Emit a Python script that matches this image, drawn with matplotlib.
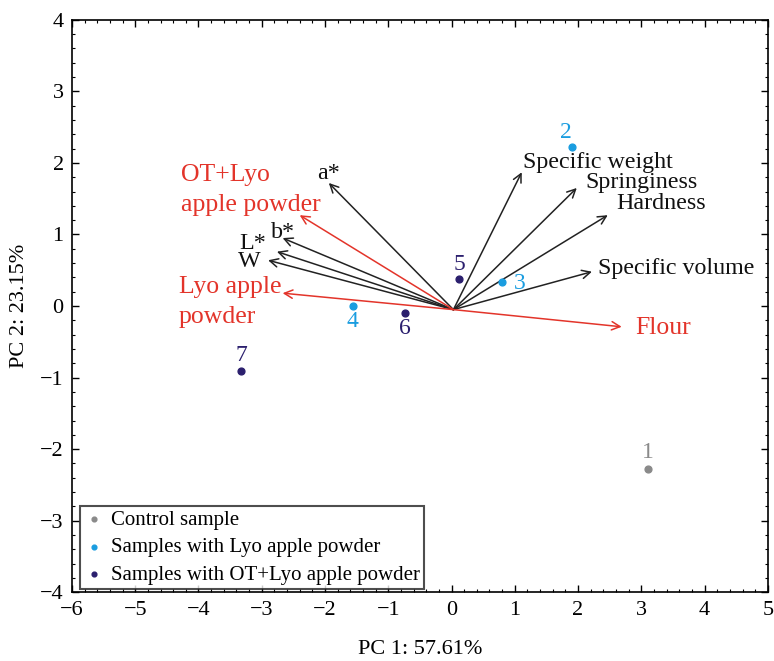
import matplotlib.pyplot as plt
from matplotlib.ticker import AutoMinorLocator

plt.rcParams['font.family'] = ['Liberation Serif', 'DejaVu Serif']

# sample scores
sample_ids = ['1', '2', '3', '4', '5', '6', '7']
sample_x = [3.10, 1.90, 0.80, -1.55, 0.12, -0.74, -3.33]
sample_y = [-2.28, 2.22, 0.34, 0.00, 0.38, -0.10, -0.91]
sample_group = [0, 1, 1, 1, 2, 2, 2]
group_names = ['Control sample', 'Samples with Lyo apple powder',
               'Samples with OT+Lyo apple powder']
group_colors = ['#8a8a8a', '#1a9de0', '#2b1f6e']

# loading vectors
origin = (0.03, -0.05)
var_names = ['a*', 'b*', 'L*', 'W', 'Specific weight', 'Springiness',
             'Hardness', 'Specific volume']
var_x = [-1.94, -2.67, -2.76, -2.90, 1.11, 1.98, 2.47, 2.22]
var_y = [1.72, 0.95, 0.76, 0.64, 1.87, 1.65, 1.27, 0.48]
supp_names = ['OT+Lyo\napple powder', 'Lyo apple\npowder', 'Flour']
supp_x = [-2.40, -2.67, 2.69]
supp_y = [1.27, 0.18, -0.29]

fig = plt.figure(figsize=(7.74, 6.61), dpi=100)
ax = fig.add_axes([0.093, 0.104, 0.899, 0.866])

for x, y in zip(var_x, var_y):
    ax.annotate('', xy=(x, y), xytext=origin,
                arrowprops=dict(arrowstyle='->', color='#222222', lw=1.1,
                                mutation_scale=15, shrinkA=0, shrinkB=0))
for x, y in zip(supp_x, supp_y):
    ax.annotate('', xy=(x, y), xytext=origin,
                arrowprops=dict(arrowstyle='->', color='#e3342a', lw=1.1,
                                mutation_scale=15, shrinkA=0, shrinkB=0))

# variable labels (position, horizontal alignment)
var_pos = [(-1.95, 1.85, 'center'), (-2.67, 1.03, 'center'),
           (-3.14, 0.88, 'center'), (-3.19, 0.62, 'center'),
           (1.13, 2.0, 'left'), (2.11, 1.72, 'left'),
           (2.61, 1.43, 'left'), (2.31, 0.52, 'left')]
for name, (px, py, ha) in zip(var_names, var_pos):
    ax.text(px, py, name, fontsize=17.3, ha=ha, va='center', color='#111111')

supp_pos = [(-4.28, 1.62), (-4.31, 0.06), (2.90, -0.31)]
for name, (px, py) in zip(supp_names, supp_pos):
    ax.text(px, py, name, fontsize=18.5, color='#e3342a', ha='left',
            va='center', linespacing=1.45)

# sample points
for g in range(3):
    xs = [x for x, k in zip(sample_x, sample_group) if k == g]
    ys = [y for y, k in zip(sample_y, sample_group) if k == g]
    ax.scatter(xs, ys, s=24, color=group_colors[g], label=group_names[g], zorder=3)

lab_off = [(0, 0.24), (-0.09, 0.20), (0.28, -0.02), (-0.01, -0.22),
           (0.0, 0.2), (0.0, -0.21), (0.0, 0.22)]
for sid, x, y, g, (dx, dy) in zip(sample_ids, sample_x, sample_y, sample_group, lab_off):
    ax.text(x + dx, y + dy, sid, fontsize=17, color=group_colors[g],
            ha='center', va='center')

ax.set_xlim(-6, 5)
ax.set_ylim(-4, 4)
ax.set_xticks(range(-6, 6))
ax.set_yticks(range(-4, 5))
ax.set_xticklabels([str(v).replace('-', '\u2212') for v in range(-6, 6)])
ax.set_yticklabels([str(v).replace('-', '\u2212') for v in range(-4, 5)])
ax.xaxis.set_minor_locator(AutoMinorLocator(5))
ax.yaxis.set_minor_locator(AutoMinorLocator(5))
ax.tick_params(which='both', direction='in', top=True, right=True, labelsize=16)
ax.tick_params(which='major', length=5, width=1, pad=6)
ax.tick_params(which='minor', length=2.5, width=0.8)
for s in ax.spines.values():
    s.set_linewidth(1.2)

ax.set_xlabel('PC 1: 57.61%', fontsize=16, labelpad=15)
ax.set_ylabel('PC 2: 23.15%', fontsize=16, labelpad=8)

leg = ax.legend(loc='lower left', bbox_to_anchor=(0.012, 0.006), fontsize=15,
                frameon=True, fancybox=False, edgecolor='#222222',
                markerscale=0.7, handletextpad=0.35, borderaxespad=0.0,
                borderpad=0.2, labelspacing=0.38, handlelength=0.9)
leg.get_frame().set_linewidth(1.5)

fig.savefig('out.png', dpi=100)
